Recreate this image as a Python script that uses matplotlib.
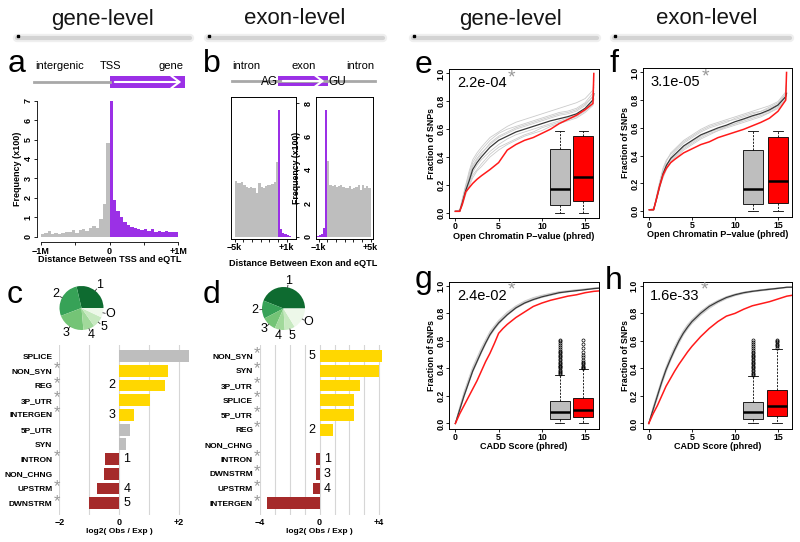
import numpy as np
import matplotlib
matplotlib.use("Agg")
import matplotlib.pyplot as plt
from matplotlib.patches import Rectangle

plt.rcParams['font.family'] = ['Liberation Sans', 'DejaVu Sans']

# a: distance TSS - eQTL, frequency (x100), 20 bins each side
tss_up = [0.14, 0.2, 0.27, 0.14, 0.2, 0.15, 0.2, 0.25, 0.26, 0.33,
          0.2, 0.33, 0.4, 0.27, 0.47, 0.55, 0.43, 0.93, 1.7, 4.84]
tss_down = [7.03, 1.89, 1.34, 1.03, 0.77, 0.6, 0.51, 0.43, 0.38, 0.34,
            0.41, 0.31, 0.38, 0.24, 0.27, 0.24, 0.31, 0.24, 0.22, 0.22]

# b: distance exon - eQTL, frequency (x100)
ag_intron = [3.35, 3.2, 3.25, 3.3, 3.1, 3.0, 2.95, 3.0, 2.9, 2.95,
             2.6, 3.2, 3.0, 2.9, 3.05, 3.1, 3.1, 3.15, 3.3, 4.5]
ag_exon = [7.6, 0.45, 0.25, 0.15, 0.1, 0.05]
gu_exon = [0.04, 0.08, 0.18, 0.5, 7.6]
gu_intron = [4.55, 3.1, 3.05, 3.1, 3.0, 3.05, 3.1, 3.0, 2.95, 2.9,
             3.05, 2.85, 2.9, 3.0, 3.1, 2.8, 3.1, 2.95, 3.05, 2.9]

# c, d: pies
pie_labels = ['1', '2', '3', '4', '5', 'O']
c_pie = [0.286, 0.272, 0.206, 0.083, 0.083, 0.07]
d_pie = [0.44, 0.136, 0.108, 0.075, 0.078, 0.163]

# c, d: log2(obs/exp) enrichment
c_cats = ['SPLICE', 'NON_SYN', 'REG', '3P_UTR', 'INTERGEN', '5P_UTR', 'SYN',
          'INTRON', 'NON_CHNG', 'UPSTRM', 'DWNSTRM']
c_vals = [2.34, 1.64, 1.53, 1.03, 0.48, 0.37, 0.22, -0.49, -0.52, -0.74, -1.02]
c_kind = ['ns', 'up', 'up', 'up', 'up', 'ns', 'ns', 'dn', 'dn', 'dn', 'dn']
c_sig = [0, 1, 1, 1, 1, 0, 0, 1, 0, 1, 1]
c_rank = ['', '', '2', '', '3', '', '', '1', '', '4', '5']

d_cats = ['NON_SYN', 'SYN', '3P_UTR', 'SPLICE', '5P_UTR', 'REG', 'NON_CHNG',
          'INTRON', 'DWNSTRM', 'UPSTRM', 'INTERGEN']
d_vals = [4.16, 4.0, 2.7, 2.32, 2.28, 0.92, 0.0, -0.25, -0.27, -0.47, -3.55]
d_kind = ['up', 'up', 'up', 'up', 'up', 'up', 'ns', 'dn', 'dn', 'dn', 'dn']
d_sig = [1, 1, 1, 1, 1, 1, 0, 1, 1, 1, 1]
d_rank = ['5', '', '', '', '', '2', '', '1', '3', '4', '']

# e, f: open chromatin cumulative fractions
x_oc = [0, 0.5, 0.8, 1.2, 1.6, 2, 2.5, 3, 4, 5, 6, 7, 8, 9, 10, 11, 12, 13, 14, 15, 15.9, 16]
e_red = [0.01, 0.01, 0.06, 0.15, 0.18, 0.21, 0.24, 0.265, 0.31, 0.36, 0.45, 0.49, 0.52,
         0.54, 0.57, 0.60, 0.64, 0.67, 0.70, 0.74, 0.785, 1.0]
e_black = [0.01, 0.01, 0.07, 0.16, 0.23, 0.31, 0.36, 0.40, 0.47, 0.52, 0.55, 0.58, 0.60,
           0.62, 0.64, 0.66, 0.675, 0.69, 0.71, 0.75, 0.81, 0.855]
e_grey = [
    [0.01, 0.01, 0.09, 0.19, 0.28, 0.36, 0.41, 0.45, 0.52, 0.57, 0.60, 0.62, 0.64, 0.66, 0.68, 0.70, 0.72, 0.73, 0.75, 0.79, 0.86, 0.90],
    [0.01, 0.02, 0.08, 0.17, 0.25, 0.33, 0.38, 0.42, 0.50, 0.55, 0.58, 0.61, 0.63, 0.65, 0.67, 0.69, 0.71, 0.72, 0.74, 0.78, 0.83, 0.87],
    [0.01, 0.01, 0.06, 0.14, 0.20, 0.27, 0.31, 0.35, 0.42, 0.47, 0.50, 0.53, 0.56, 0.58, 0.61, 0.63, 0.65, 0.67, 0.69, 0.73, 0.78, 0.82],
    [0.01, 0.01, 0.07, 0.15, 0.22, 0.29, 0.34, 0.38, 0.44, 0.49, 0.53, 0.56, 0.58, 0.60, 0.62, 0.64, 0.66, 0.68, 0.70, 0.74, 0.80, 0.84],
    [0.01, 0.02, 0.10, 0.20, 0.30, 0.38, 0.43, 0.47, 0.54, 0.58, 0.62, 0.65, 0.67, 0.69, 0.71, 0.73, 0.75, 0.77, 0.79, 0.82, 0.88, 0.95],
    [0.01, 0.01, 0.05, 0.13, 0.19, 0.25, 0.30, 0.33, 0.40, 0.45, 0.49, 0.52, 0.55, 0.57, 0.59, 0.62, 0.64, 0.66, 0.68, 0.72, 0.77, 0.81],
    [0.01, 0.01, 0.08, 0.18, 0.26, 0.34, 0.39, 0.43, 0.49, 0.54, 0.57, 0.60, 0.62, 0.64, 0.66, 0.68, 0.70, 0.71, 0.73, 0.77, 0.84, 0.92],
]
f_red = [0.01, 0.01, 0.08, 0.18, 0.26, 0.31, 0.35, 0.375, 0.42, 0.45, 0.48, 0.50, 0.53,
         0.55, 0.57, 0.59, 0.615, 0.64, 0.67, 0.72, 0.80, 1.0]
f_black = [0.01, 0.01, 0.08, 0.18, 0.27, 0.33, 0.38, 0.41, 0.47, 0.51, 0.55, 0.575, 0.60,
           0.62, 0.645, 0.665, 0.687, 0.705, 0.73, 0.765, 0.825, 0.85]
f_grey = [
    [0.01, 0.01, 0.09, 0.20, 0.30, 0.36, 0.42, 0.45, 0.51, 0.55, 0.59, 0.62, 0.64, 0.66, 0.68, 0.70, 0.72, 0.74, 0.76, 0.79, 0.86, 0.93],
    [0.01, 0.02, 0.08, 0.17, 0.25, 0.31, 0.36, 0.39, 0.45, 0.49, 0.53, 0.56, 0.58, 0.61, 0.63, 0.65, 0.67, 0.69, 0.71, 0.75, 0.81, 0.84],
    [0.01, 0.01, 0.07, 0.16, 0.26, 0.33, 0.39, 0.43, 0.49, 0.53, 0.57, 0.60, 0.62, 0.64, 0.67, 0.69, 0.71, 0.72, 0.75, 0.78, 0.84, 0.88],
    [0.01, 0.01, 0.09, 0.19, 0.28, 0.34, 0.37, 0.40, 0.46, 0.50, 0.54, 0.57, 0.59, 0.61, 0.63, 0.66, 0.68, 0.70, 0.72, 0.76, 0.83, 0.95],
    [0.01, 0.02, 0.07, 0.17, 0.24, 0.30, 0.35, 0.38, 0.44, 0.48, 0.52, 0.55, 0.58, 0.60, 0.62, 0.64, 0.66, 0.68, 0.71, 0.74, 0.80, 0.83],
    [0.01, 0.01, 0.10, 0.21, 0.31, 0.37, 0.41, 0.44, 0.50, 0.54, 0.58, 0.61, 0.63, 0.65, 0.66, 0.68, 0.70, 0.72, 0.74, 0.77, 0.85, 0.90],
]

# g, h: CADD cumulative fractions
x_cadd = [0, 0.5, 1, 1.5, 2, 2.5, 3, 3.5, 4, 4.5, 5, 5.5, 6, 7, 8, 9, 10, 11, 12, 13, 14, 15, 16, 17]
g_red = [0.0, 0.07, 0.13, 0.19, 0.25, 0.31, 0.38, 0.45, 0.51, 0.58, 0.655, 0.69, 0.72, 0.77,
         0.81, 0.85, 0.875, 0.895, 0.91, 0.925, 0.935, 0.95, 0.96, 0.965]
g_black = [0.0, 0.10, 0.20, 0.29, 0.38, 0.45, 0.52, 0.585, 0.645, 0.69, 0.73, 0.76, 0.79, 0.84,
           0.875, 0.90, 0.92, 0.935, 0.95, 0.958, 0.965, 0.972, 0.98, 0.985]
g_grey = [
    [0.0, 0.11, 0.22, 0.31, 0.40, 0.47, 0.54, 0.60, 0.66, 0.70, 0.74, 0.77, 0.80, 0.85, 0.885, 0.91, 0.928, 0.942, 0.955, 0.963, 0.97, 0.976, 0.983, 0.988],
    [0.0, 0.09, 0.19, 0.28, 0.37, 0.44, 0.51, 0.575, 0.635, 0.68, 0.72, 0.755, 0.785, 0.835, 0.87, 0.895, 0.915, 0.93, 0.945, 0.955, 0.962, 0.97, 0.978, 0.983],
    [0.0, 0.11, 0.21, 0.30, 0.39, 0.46, 0.53, 0.59, 0.65, 0.695, 0.735, 0.765, 0.795, 0.845, 0.88, 0.905, 0.925, 0.94, 0.952, 0.96, 0.968, 0.975, 0.982, 0.987],
    [0.0, 0.10, 0.20, 0.29, 0.38, 0.455, 0.525, 0.59, 0.65, 0.70, 0.74, 0.77, 0.80, 0.85, 0.88, 0.905, 0.925, 0.94, 0.952, 0.96, 0.967, 0.974, 0.981, 0.986],
    [0.0, 0.12, 0.23, 0.32, 0.41, 0.48, 0.55, 0.61, 0.67, 0.71, 0.75, 0.78, 0.81, 0.855, 0.89, 0.915, 0.932, 0.946, 0.958, 0.965, 0.972, 0.978, 0.985, 0.99],
]
h_red = [0.0, 0.07, 0.13, 0.20, 0.27, 0.325, 0.38, 0.43, 0.475, 0.52, 0.56, 0.595, 0.63, 0.69,
         0.74, 0.78, 0.80, 0.83, 0.855, 0.87, 0.885, 0.905, 0.925, 0.935]
h_black = [0.0, 0.10, 0.20, 0.30, 0.39, 0.465, 0.535, 0.60, 0.655, 0.70, 0.74, 0.77, 0.80, 0.85,
           0.885, 0.915, 0.935, 0.95, 0.96, 0.968, 0.975, 0.982, 0.99, 0.99]
h_grey = [
    [0.0, 0.11, 0.21, 0.31, 0.40, 0.475, 0.545, 0.61, 0.665, 0.71, 0.75, 0.78, 0.81, 0.86, 0.89, 0.92, 0.94, 0.953, 0.963, 0.97, 0.978, 0.984, 0.99, 0.992],
    [0.0, 0.09, 0.19, 0.29, 0.38, 0.455, 0.525, 0.59, 0.645, 0.69, 0.73, 0.76, 0.79, 0.84, 0.878, 0.91, 0.93, 0.945, 0.957, 0.965, 0.972, 0.98, 0.987, 0.99],
    [0.0, 0.12, 0.22, 0.32, 0.41, 0.49, 0.56, 0.62, 0.675, 0.72, 0.755, 0.785, 0.815, 0.86, 0.895, 0.922, 0.94, 0.955, 0.965, 0.972, 0.98, 0.985, 0.99, 0.993],
    [0.0, 0.10, 0.20, 0.30, 0.39, 0.47, 0.54, 0.60, 0.66, 0.705, 0.745, 0.775, 0.805, 0.855, 0.888, 0.918, 0.937, 0.951, 0.962, 0.97, 0.977, 0.983, 0.989, 0.991],
    [0.0, 0.09, 0.18, 0.28, 0.37, 0.45, 0.52, 0.58, 0.64, 0.685, 0.725, 0.755, 0.785, 0.835, 0.875, 0.905, 0.928, 0.943, 0.955, 0.963, 0.971, 0.978, 0.986, 0.989],
]

# inset boxplots (whislo, q1, med, q3, whishi) and outliers
e_box_grey = [0.0, 0.056, 0.169, 0.458, 0.585]
e_box_red = [0.0, 0.085, 0.258, 0.554, 0.585]
f_box_grey = [0.0, 0.055, 0.161, 0.443, 0.581]
f_box_red = [0.0, 0.06, 0.215, 0.538, 0.581]
g_box_grey = [0.0, 0.036, 0.085, 0.162, 0.355]
g_box_red = [0.0, 0.049, 0.101, 0.186, 0.396]
h_box_grey = [0.0, 0.034, 0.082, 0.154, 0.343]
h_box_red = [0.0, 0.053, 0.125, 0.246, 0.54]
g_out_grey = [0.36, 0.37, 0.375, 0.38, 0.39, 0.40, 0.41, 0.415, 0.42, 0.43, 0.44, 0.45, 0.46,
              0.47, 0.48, 0.49, 0.50, 0.51, 0.52, 0.53, 0.54, 0.555, 0.57, 0.585, 0.60, 0.61]
g_out_red = [0.40, 0.405, 0.41, 0.42, 0.43, 0.44, 0.45, 0.46, 0.48, 0.50, 0.52, 0.55, 0.58, 0.61]
h_out_grey = [0.35, 0.36, 0.37, 0.38, 0.39, 0.40, 0.41, 0.42, 0.43, 0.44, 0.45, 0.46, 0.47,
              0.48, 0.49, 0.50, 0.51, 0.52, 0.535, 0.55, 0.565, 0.58, 0.595, 0.61]
h_out_red = [0.55, 0.56, 0.57, 0.58, 0.59, 0.60, 0.61]

pvals = ['2.2e-04', '3.1e-05', '2.4e-02', '1.6e-33']

GREY = '#bebebe'
PURPLE = '#9b30e6'
GOLD = '#ffd700'
BROWN = '#a52a2a'
kind_color = {'ns': GREY, 'up': GOLD, 'dn': BROWN}
pie_colors = ['#0e6b30', '#37a257', '#74c476', '#a1d99b', '#c7e9c0', '#edf8e9']

W, H = 800, 542
fig = plt.figure(figsize=(W / 100, H / 100), dpi=100)


def px_axes(x0, y0, x1, y1):
    return fig.add_axes([x0 / W, 1 - y1 / H, (x1 - x0) / W, (y1 - y0) / H])


def hist_bars(ax, start, width, vals, color):
    left = start + width * np.arange(len(vals))
    ax.bar(left, vals, width=width, align='edge', color=color, linewidth=0)


# ---------- a ----------
ax = px_axes(40.7, 100.7, 178.3, 236.7)
hist_bars(ax, -1e6, 5e4, tss_up, GREY)
hist_bars(ax, 0, 5e4, tss_down, PURPLE)
ax.set_xlim(-1e6, 1e6)
ax.set_ylim(0, 7)
for s in ['top', 'right']:
    ax.spines[s].set_visible(False)
ax.spines['left'].set_position(('outward', 2.5))
ax.spines['bottom'].set_position(('outward', 4))
for s in ['left', 'bottom']:
    ax.spines[s].set_linewidth(0.6)
ax.set_xticks([-1e6, 0, 1e6], ['−1M', '0', '+1M'], fontsize=6.5, fontweight='bold')
ax.set_xticks([-5e5, 5e5], minor=True)
ax.set_yticks(range(8), [str(i) for i in range(8)], rotation=90, va='center',
              fontsize=6.5, fontweight='bold')
ax.tick_params(which='both', length=2.5, width=0.6, pad=1)
ax.text(-0.17, 0.5, 'Frequency (x100)', transform=ax.transAxes, rotation=90,
        ha='center', va='center', fontsize=6.5, fontweight='bold')
ax.text(0.5, -0.17, 'Distance Between TSS and eQTL', transform=ax.transAxes,
        ha='center', va='center', fontsize=6.6, fontweight='bold')

# ---------- b ----------
ax = px_axes(231.3, 97, 296, 238.5)
hist_bars(ax, -5000, 250, ag_intron, GREY)
hist_bars(ax, 0, 250, ag_exon, PURPLE)
ax.set_xlim(-5390, 2080)
ax.set_ylim(-0.11, 8.38)
ax.yaxis.tick_right()
ax.set_yticks([0, 2, 4, 6, 8], [])
ax.set_xticks(range(-5000, 1001, 1000), ['−5k', '', '', '', '', '', '+1k'],
              fontsize=6.5, fontweight='bold')
ax.tick_params(length=2.5, width=0.6, pad=1)
for s in ax.spines.values():
    s.set_linewidth(0.7)

ax = px_axes(316.3, 97, 373, 238.5)
hist_bars(ax, -1250, 250, gu_exon, PURPLE)
hist_bars(ax, 0, 250, gu_intron, GREY)
ax.set_xlim(-1270, 5280)
ax.set_ylim(-0.11, 8.38)
ax.set_yticks([0, 2, 4, 6, 8], ['0', '2', '4', '6', '8'], rotation=90, va='center',
              fontsize=6.5, fontweight='bold')
ax.tick_params(axis='y', length=0, pad=2.5)
ax.set_xticks(range(-1000, 5001, 1000), ['−1k', '', '', '', '', '', '+5k'],
              fontsize=6.5, fontweight='bold')
ax.tick_params(axis='x', length=2.5, width=0.6, pad=1)
for s in ax.spines.values():
    s.set_linewidth(0.7)
ax.text(-0.345, 0.5, 'Frequency (x100)', transform=ax.transAxes, rotation=90,
        ha='center', va='center', fontsize=6.3, fontweight='bold')


# ---------- c, d pies ----------
def pie_panel(rect, sizes):
    ax = px_axes(*rect)
    ax.pie(sizes, colors=pie_colors, startangle=0, counterclock=True,
           wedgeprops=dict(linewidth=0))
    sizes = np.array(sizes) / np.sum(sizes)
    mids = np.deg2rad(360 * (np.cumsum(sizes) - sizes / 2))
    for lab, a in zip(pie_labels, mids):
        ax.plot([np.cos(a), 1.1 * np.cos(a)], [np.sin(a), 1.1 * np.sin(a)],
                color='#333333', lw=0.6, clip_on=False)
        ax.text(1.32 * np.cos(a), 1.32 * np.sin(a), lab, ha='center', va='center',
                fontsize=9)
    ax.set_xlim(-1, 1)
    ax.set_ylim(-1, 1)
    ax.set_aspect('equal')
    ax.axis('off')


pie_panel((59.5, 286, 103.5, 330), c_pie)
pie_panel((262, 287, 305, 330), d_pie)


# ---------- c, d bars ----------
def bar_panel(rect, cats, vals, kinds, sig, ranks, xlim, major, major_lab, minor, star_dx):
    ax = px_axes(*rect)
    ypos = np.arange(len(cats))
    ax.barh(ypos, vals, height=0.8, color=[kind_color[k] for k in kinds], linewidth=0)
    ax.set_xlim(*xlim)
    ax.set_ylim(10.8, -0.75)
    ax.set_yticks(ypos, cats, fontsize=6, fontweight='bold')
    ax.tick_params(axis='y', length=0, pad=5)
    ax.set_xticks(major, major_lab, fontsize=6.5, fontweight='bold')
    ax.set_xticks(minor, minor=True)
    ax.tick_params(axis='x', which='both', length=0, pad=2.5)
    ax.grid(axis='x', which='both', color='#d6d6d6', lw=0.8)
    ax.set_axisbelow(True)
    for s in ax.spines.values():
        s.set_visible(False)
    for i, (v, s, r) in enumerate(zip(vals, sig, ranks)):
        if s:
            ax.annotate('*', xy=(0, i), xycoords=ax.get_yaxis_transform(),
                        xytext=(star_dx, 1.5), textcoords='offset points', ha='center',
                        va='center', fontsize=12, color='#999999', annotation_clip=False)
        if r:
            ax.annotate(r, xy=(0, i), xytext=(-3 if v > 0 else 3, 0),
                        textcoords='offset points', ha='right' if v > 0 else 'left',
                        va='center', fontsize=9)
    ax.text(0, -0.095, 'log2( Obs / Exp )', transform=ax.get_xaxis_transform(),
            ha='center', va='center', fontsize=6, fontweight='bold')


bar_panel((59.3, 345, 190, 515), c_cats, c_vals, c_kind, c_sig, c_rank, (-2, 2.36),
          [-2, 0, 2], ['−2', '0', '+2'], [-1, 1], -1.8)
bar_panel((260, 345, 384, 515), d_cats, d_vals, d_kind, d_sig, d_rank, (-4, 4.32),
          [-4, 0, 4], ['−4', '0', '+4'], [-3, -2, -1, 1, 2, 3], -2.2)


# ---------- e-h ----------
def cdf_panel(rect, xs, red, black, greys, boxes, fliers, pos, xlabel, pval):
    ax = px_axes(*rect)
    for g in greys:
        ax.plot(xs, g, color='#cbcbcb', lw=0.6)
    ax.plot(xs, black, color='#383838', lw=0.9)
    ax.plot(xs, red, color='#ff1a1a', lw=1.1)
    stats = [dict(whislo=b[0], q1=b[1], med=b[2], q3=b[3], whishi=b[4], fliers=f)
             for b, f in zip(boxes, fliers)]
    bp = ax.bxp(stats, positions=pos, widths=2.3, capwidths=1.1, patch_artist=True,
                manage_ticks=False,
                boxprops=dict(linewidth=0.6),
                medianprops=dict(color='black', linewidth=1.8),
                whiskerprops=dict(linewidth=0.6, linestyle=(0, (2.5, 1.5))),
                capprops=dict(linewidth=0.6),
                flierprops=dict(marker='o', markersize=2.2, markerfacecolor='none',
                                markeredgecolor='black', markeredgewidth=0.5))
    for patch, col in zip(bp['boxes'], [GREY, '#ff0000']):
        patch.set_facecolor(col)
    ax.set_xlim(-0.7, 16.6)
    ax.set_ylim(-0.04, 1.03)
    ax.set_xticks([0, 5, 10, 15], ['0', '5', '10', '15'], fontsize=6.3, fontweight='bold')
    ax.set_yticks([0, 0.2, 0.4, 0.6, 0.8, 1.0], ['0.0', '0.2', '0.4', '0.6', '0.8', '1.0'],
                  rotation=90, va='center', fontsize=6.3, fontweight='bold')
    ax.tick_params(length=2.4, width=0.6, pad=0.4)
    for s in ax.spines.values():
        s.set_linewidth(0.7)
    ax.text(-0.118, 0.5, 'Fraction of SNPs', transform=ax.transAxes, rotation=90,
            ha='center', va='center', fontsize=6.3, fontweight='bold')
    ax.text(0.5, -0.122, xlabel, transform=ax.transAxes, ha='center', va='center',
            fontsize=6.5, fontweight='bold')
    t = ax.text(0.05, 0.905, pval, transform=ax.transAxes, ha='left', va='center',
                fontsize=10.5)
    ax.annotate('*', xy=(1, 0.5), xycoords=t, xytext=(3.5, 4), textcoords='offset points',
                ha='center', va='center', fontsize=14, color='#999999')


cdf_panel((449.3, 69.3, 599, 218.3), x_oc, e_red, e_black, e_grey,
          [e_box_grey, e_box_red], [[], []], [12.06, 14.8],
          'Open Chromatin P−value (phred)', pvals[0])
cdf_panel((643.3, 68.3, 791.7, 216.7), x_oc, f_red, f_black, f_grey,
          [f_box_grey, f_box_red], [[], []], [12.1, 15.0],
          'Open Chromatin P−value (phred)', pvals[1])
cdf_panel((449.3, 281.7, 599, 429), x_cadd, g_red, g_black, g_grey,
          [g_box_grey, g_box_red], [g_out_grey, g_out_red], [12.06, 14.8],
          'CADD Score (phred)', pvals[2])
cdf_panel((642.7, 281.7, 792, 429), x_cadd, h_red, h_black, h_grey,
          [h_box_grey, h_box_red], [h_out_grey, h_out_red], [12.08, 14.87],
          'CADD Score (phred)', pvals[3])

# ---------- headers, letters, gene diagrams ----------
ov = fig.add_axes([0, 0, 1, 1])
ov.set_xlim(0, W)
ov.set_ylim(H, 0)
ov.axis('off')

for cx, txt in [(103, 'gene-level'), (295, 'exon-level'), (510, 'gene-level'), (707, 'exon-level')]:
    ov.text(cx, 19, txt, ha='center', va='center', fontsize=16, color='#151515')
for x0, x1 in [(17, 190), (208, 383), (413, 597), (614, 790)]:
    ov.plot([x0, x1], [37.5, 37.5], color='#efefef', lw=6, solid_capstyle='round')
    ov.plot([x0, x1], [37.5, 37.5], color='#d3d3d3', lw=3, solid_capstyle='round')
    ov.plot([x0 + 1], [36], marker='s', ms=1.8, color='black')

for lab, x, y in [('a', 17, 72), ('b', 212, 72), ('c', 15, 303), ('d', 212, 303),
                  ('e', 423, 73), ('f', 614, 72), ('g', 423, 288), ('h', 614, 289)]:
    ov.text(x, y, lab, ha='center', va='baseline', fontsize=23)

# a: TSS diagram
ov.plot([34, 110], [82, 82], color='#a8a8a8', lw=2)
ov.add_patch(Rectangle((110, 76), 75, 12, color=PURPLE, lw=0))
ov.annotate('', xy=(184, 82), xytext=(112, 82),
            arrowprops=dict(arrowstyle='->,head_length=0.6,head_width=0.45', color='white', lw=1.5))
for x, txt in [(60, 'intergenic'), (111, 'TSS'), (171, 'gene')]:
    ov.text(x, 66, txt, ha='center', va='center', fontsize=8)

# b: exon diagram
ov.plot([232, 375], [81, 81], color='#a8a8a8', lw=2)
ov.add_patch(Rectangle((278, 76), 50, 10, color=PURPLE, lw=0))
ov.annotate('', xy=(327, 81), xytext=(280, 81),
            arrowprops=dict(arrowstyle='->,head_length=0.6,head_width=0.45', color='white', lw=1.5))
for x, txt in [(246, 'intron'), (304, 'exon'), (360, 'intron')]:
    ov.text(x, 66, txt, ha='center', va='center', fontsize=8)
ov.text(270, 82, 'AG', ha='center', va='center', fontsize=8.5)
ov.text(337, 82, 'GU', ha='center', va='center', fontsize=8.5)
ov.text(303, 263, 'Distance Between Exon and eQTL', ha='center', va='center',
        fontsize=6.6, fontweight='bold')

fig.savefig('out.png', dpi=100)
